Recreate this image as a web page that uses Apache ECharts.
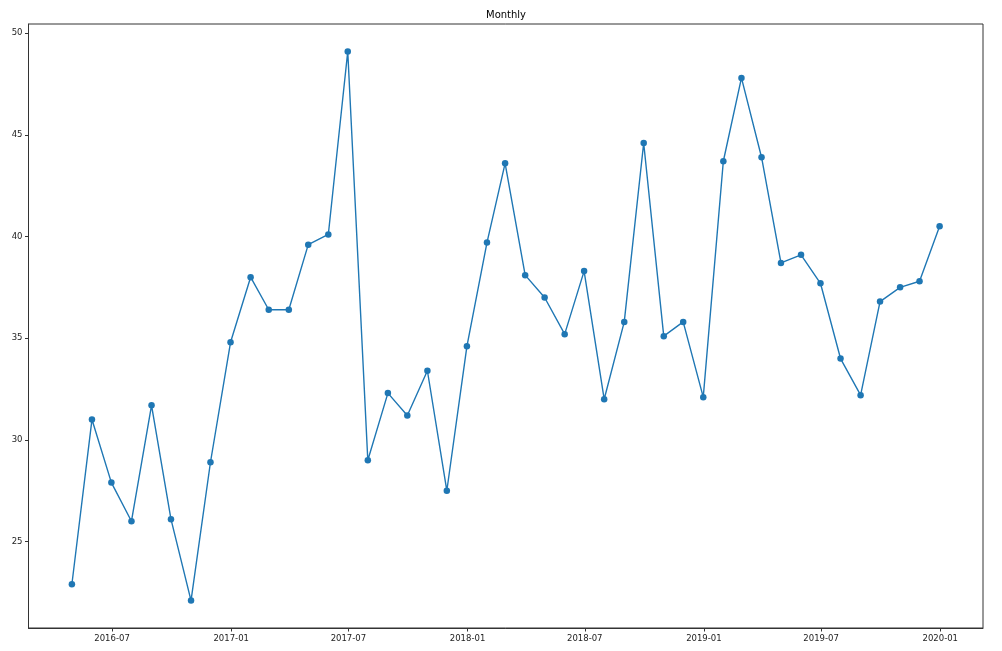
<!DOCTYPE html>
<html>
<head>
<meta charset="utf-8">
<script src="https://cdn.jsdelivr.net/npm/echarts@6/dist/echarts.min.js"></script>
<style>html,body{margin:0;padding:0;background:#fff}#c{width:1002px;height:651px}</style>
</head>
<body>
<div id="c"></div>
<script>
var dates = ['2016-04-30','2016-05-31','2016-06-30','2016-07-31','2016-08-31','2016-09-30','2016-10-31','2016-11-30','2016-12-31',
'2017-01-31','2017-02-28','2017-03-31','2017-04-30','2017-05-31','2017-06-30','2017-07-31','2017-08-31','2017-09-30','2017-10-31','2017-11-30','2017-12-31',
'2018-01-31','2018-02-28','2018-03-31','2018-04-30','2018-05-31','2018-06-30','2018-07-31','2018-08-31','2018-09-30','2018-10-31','2018-11-30','2018-12-31',
'2019-01-31','2019-02-28','2019-03-31','2019-04-30','2019-05-31','2019-06-30','2019-07-31','2019-08-31','2019-09-30','2019-10-31','2019-11-30','2019-12-31'];
var values = [22.9,31.0,27.9,26.0,31.7,26.1,22.1,28.9,34.8,
38.0,36.4,36.4,39.6,40.1,49.1,29.0,32.3,31.2,33.4,27.5,34.6,
39.7,43.6,38.1,37.0,35.2,38.3,32.0,35.8,44.6,35.1,35.8,32.1,
43.7,47.8,43.9,38.7,39.1,37.7,34.0,32.2,36.8,37.5,37.8,40.5];
var xTickLabels = ['2016-07','2017-01','2017-07','2018-01','2018-07','2019-01','2019-07','2020-01'];
var yTicks = [25,30,35,40,45,50];
var title = 'Monthly';

function ts(s){var p=s.split('-');return Date.UTC(+p[0],+p[1]-1,p[2]?+p[2]:1);}
var first=ts(dates[0]), last=ts(dates[dates.length-1]);
var pad=(last-first)*0.05;
var vmin=Math.min.apply(null,values), vmax=Math.max.apply(null,values);
var vpad=(vmax-vmin)*0.05;
var xTickVals = xTickLabels.map(ts);
function fmt(v){var d=new Date(v);var m=d.getUTCMonth()+1;return d.getUTCFullYear()+'-'+(m<10?'0':'')+m;}

var chart = echarts.init(document.getElementById('c'));
chart.setOption({
  animation:false,
  backgroundColor:'#fff',
  title:{text:title,left:481,top:5,textStyle:{fontFamily:'DejaVu Sans',fontSize:10,fontWeight:'normal',color:'#000'}},
  grid:{left:28.5,right:19,top:24,bottom:23,show:true,borderColor:'#333',borderWidth:1,backgroundColor:'transparent'},
  xAxis:{type:'value',min:first-pad,max:last+pad,
    axisLine:{show:true,lineStyle:{color:'#333'}},
    axisTick:{show:true,inside:false,length:3.5,customValues:xTickVals,lineStyle:{color:'#333'}},
    axisLabel:{customValues:xTickVals,formatter:function(v){return fmt(v);},fontFamily:'DejaVu Sans',fontSize:8.5,color:'#222',margin:6,showMinLabel:true,showMaxLabel:true,hideOverlap:false},
    splitLine:{show:false}},
  yAxis:{type:'value',min:vmin-vpad,max:vmax+vpad,
    axisLine:{show:true,lineStyle:{color:'#333'}},
    axisTick:{show:true,inside:false,length:3.5,customValues:yTicks,lineStyle:{color:'#333'}},
    axisLabel:{customValues:yTicks,fontFamily:'DejaVu Sans',fontSize:8.5,color:'#222',margin:6,showMinLabel:true,showMaxLabel:true},
    splitLine:{show:false}},
  series:[{type:'line',data:dates.map(function(d,i){return [ts(d),values[i]];}),
    symbol:'circle',symbolSize:6.5,showAllSymbol:true,
    lineStyle:{color:'#1f77b4',width:1.4},itemStyle:{color:'#1f77b4'}}]
});
</script>
</body>
</html>
